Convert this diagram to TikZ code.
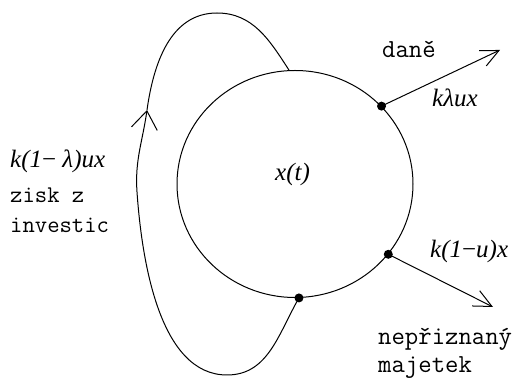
\documentclass[tikz,border=0pt]{standalone}
\usepackage{fontspec}
\newfontfamily\ratefont{Liberation Serif}
\usetikzlibrary{positioning,shapes.geometric,arrows.meta}

\tikzset{
  flow/.style={line width=1pt, -{Straight Barb[length=18pt,width=17pt]}},
  joint/.style={circle, fill=black, inner sep=0pt, minimum size=9pt},
  word/.style={anchor=base west, inner sep=0pt, font=\ttfamily\fontsize{26}{30}\selectfont},
  rate/.style={anchor=base west, inner sep=0pt, font=\ratefont\itshape\fontsize{25}{29}\selectfont},
}

\begin{document}
\begin{tikzpicture}[x=1pt,y=1pt]
  \useasboundingbox (0,0) rectangle (520,380);
  % the stock
  \node[draw, line width=1pt, ellipse, minimum width=236pt, minimum height=227pt, inner sep=0pt] (stock) at (295,196) {};
  \node[rate] (level) at (275,199) {x(t)};
  % joints on the rim
  \coordinate (looptop) at (stock.93);
  \coordinate (taxend) at (500,330);
  \coordinate (hideend) at (493,73);
  \coordinate (loopbottom) at (227,5);
  \coordinate (loopleft) at (137,188);
  \coordinate (looparrow) at (147,270);
  \coordinate (loopapex) at (217,367);
  % outflows
  \draw[flow] (stock.42) -- (taxend);
  \draw[flow] (stock.-37) -- (hideend);
  % loop back into the stock
  \draw[flow, -{Straight Barb[length=18pt,width=26pt]}] (stock.-88) to[out=-120,in=0] (loopbottom)
    to[out=180,in=-86,looseness=0.85] (loopleft) to[out=94,in=-98] (looparrow);
  \draw[line width=1pt] (looparrow) to[out=82,in=180] (loopapex) to[out=0,in=123] (looptop);
  \node[joint] (taxjoint) at (stock.42) {};
  \node[joint] (hidejoint) at (stock.-37) {};
  \node[joint] (investjoint) at (stock.-88) {};
  % labels
  \node[word] (taxword) at (382,322) {daně};
  \node[rate] (taxrate) at (432,273) {kλux};
  \node[rate] (hiderate) at (430,122) {k(1\textup{−}u)x};
  \node[word] (hidetop) at (378,35) {nepřiznaný};
  \node[word] (hidebottom) at (378,7) {majetek};
  \node[rate] (investrate) at (10,212) {k(1\textup{−} λ)ux};
  \node[word, font=\ttfamily\fontsize{24}{28}\selectfont] (investtop) at (10,177) {zisk z};
  \node[word, font=\ttfamily\fontsize{24}{28}\selectfont] (investbottom) at (10,147) {investic};
\end{tikzpicture}
\end{document}
